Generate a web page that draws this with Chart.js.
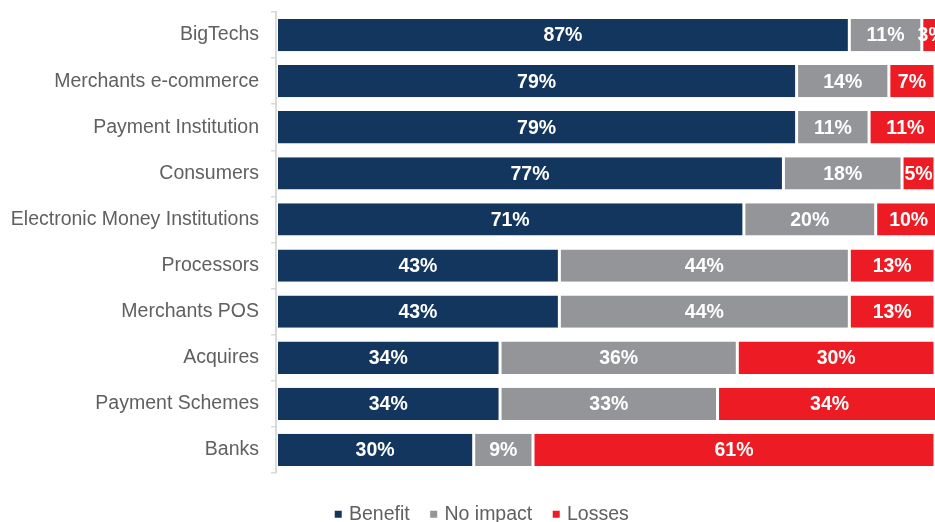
<!DOCTYPE html>
<html>
<head>
<meta charset="utf-8">
<script src="https://cdn.jsdelivr.net/npm/chart.js@4"></script>
<style>
  html, body { margin: 0; padding: 0; background: #ffffff; overflow: hidden; }
  #wrap { position: relative; width: 966px; height: 534px; }
</style>
</head>
<body>
<div id="wrap"><canvas id="c" width="966" height="534"></canvas></div>
<script>
const categories = [
  "BigTechs",
  "Merchants e-commerce",
  "Payment Institution",
  "Consumers",
  "Electronic Money Institutions",
  "Processors",
  "Merchants POS",
  "Acquires",
  "Payment Schemes",
  "Banks"
];
const seriesNames = ["Benefit", "No impact", "Losses"];
const benefit  = [87, 79, 79, 77, 71, 43, 43, 34, 34, 30];
const noImpact = [11, 14, 11, 18, 20, 44, 44, 36, 33, 9];
const losses   = [3, 7, 11, 5, 10, 13, 13, 30, 34, 61];

const colors = ["#13365F", "#939598", "#ED1C24"];
const FONT = "'Liberation Sans', Arial, sans-serif";
const TEXT_GREY = "#5f6062";

const labelPlugin = {
  id: "segLabels",
  afterLayout(chart) {
    // centre the legend under the full (uncropped) figure width
    if (chart.legend) {
      chart.legend.left += 15.5;
      chart.legend.right += 15.5;
    }
  },
  afterDatasetsDraw(chart) {
    const ctx = chart.ctx;
    ctx.save();
    ctx.font = "bold 19.5px " + FONT;
    ctx.fillStyle = "#ffffff";
    ctx.textAlign = "center";
    ctx.textBaseline = "middle";
    chart.data.datasets.forEach((ds, di) => {
      const meta = chart.getDatasetMeta(di);
      meta.data.forEach((el, i) => {
        const p = el.getProps(["x", "y", "base"], true);
        const cx = (p.x + p.base) / 2;
        ctx.fillText(ds.data[i] + "%", cx, p.y + 1);
      });
    });
    ctx.restore();
  }
};

const datasets = [benefit, noImpact, losses].map((arr, k) => ({
  label: seriesNames[k],
  data: arr,
  backgroundColor: colors[k],
  borderColor: "#ffffff",
  borderWidth: { left: 1.5, right: 1.5, top: 0, bottom: 0 },
  borderSkipped: false,
  barPercentage: 0.7,
  categoryPercentage: 1.0
}));

new Chart(document.getElementById("c"), {
  type: "bar",
  data: { labels: categories, datasets: datasets },
  plugins: [labelPlugin],
  options: {
    indexAxis: "y",
    responsive: false,
    animation: false,
    layout: { padding: { top: 12, right: 31, left: 0, bottom: 0 } },
    scales: {
      x: {
        stacked: true,
        min: 0,
        max: 100,
        display: true,
        border: { display: false },
        grid: { display: true, drawOnChartArea: false, drawTicks: true, tickLength: 8.5, color: "rgba(0,0,0,0)" },
        ticks: { display: false }
      },
      y: {
        stacked: true,
        afterFit(scale) {
          scale.width = 276;
          scale.paddingTop = 0;
          scale.paddingBottom = 0;
        },
        border: { display: true, color: "#d9d9d9", width: 2 },
        grid: { display: true, drawOnChartArea: false, drawTicks: true, tickLength: 5, color: "#d9d9d9", lineWidth: 1.5, offset: true },
        ticks: {
          color: TEXT_GREY,
          padding: 12,
          font: { family: FONT, size: 19.5 }
        }
      }
    },
    plugins: {
      tooltip: { enabled: false },
      legend: {
        position: "bottom",
        labels: {
          color: TEXT_GREY,
          font: { family: FONT, size: 19.5 },
          usePointStyle: true,
          pointStyle: "rect",
          boxWidth: 2,
          boxHeight: 7,
          padding: 23,
          generateLabels(chart) {
            return chart.data.datasets.map((ds, i) => ({
              text: ds.label,
              fillStyle: ds.backgroundColor,
              strokeStyle: ds.backgroundColor,
              lineWidth: 0,
              pointStyle: "rect",
              hidden: false,
              datasetIndex: i,
              fontColor: TEXT_GREY
            }));
          }
        }
      }
    }
  }
});
</script>
</body>
</html>
